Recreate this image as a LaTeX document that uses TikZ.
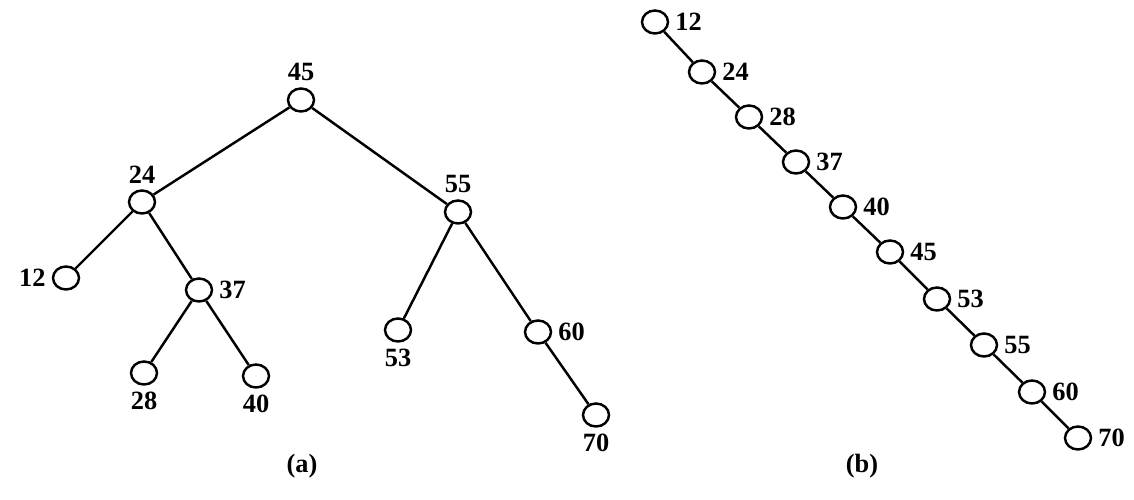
\documentclass[tikz,border=0pt]{standalone}
\usepackage{fontspec}
\setmainfont{Liberation Serif}
\usepackage{tikz}
\usetikzlibrary{positioning, shapes.geometric}

\begin{document}
\begin{tikzpicture}[every node/.style={font=\bfseries\fontsize{15}{17}\selectfont},
    key/.style={ellipse, draw, line width=1.4pt, minimum width=0.52cm, minimum height=0.46cm, inner sep=0pt, label distance=-2pt},
    link/.style={line width=1.4pt}]
    \useasboundingbox (0,0) rectangle (22.68,-10);

    % (a) balanced search tree
    \node (a45) [key, label=above:45] at (6.02,-2.00) {};
    \node (a24) [key, label=above:24] at (2.84,-4.04) {};
    \node (a55) [key, label=above:55] at (9.16,-4.24) {};
    \node (a12) [key, label=left:12] at (1.32,-5.56) {};
    \node (a37) [key, label=right:37] at (3.98,-5.80) {};
    \node (a53) [key, label=below:53] at (7.96,-6.60) {};
    \node (a60) [key, label=right:60] at (10.76,-6.64) {};
    \node (a28) [key, label=below:28] at (2.88,-7.46) {};
    \node (a40) [key, label=below:40] at (5.12,-7.52) {};
    \node (a70) [key, label=below:70] at (11.92,-8.30) {};
    \node (capa) at (6.04,-9.32) {(a)};
    \draw[link] (a45) -- (a24);
    \draw[link] (a45) -- (a55);
    \draw[link] (a24) -- (a12);
    \draw[link] (a24) -- (a37);
    \draw[link] (a37) -- (a28);
    \draw[link] (a37) -- (a40);
    \draw[link] (a55) -- (a53);
    \draw[link] (a55) -- (a60);
    \draw[link] (a60) -- (a70);

    % (b) degenerate tree
    \node (b12) [key, label=right:12] at (13.10,-0.44) {};
    \node (b24) [key, label=right:24] at (14.04,-1.44) {};
    \node (b28) [key, label=right:28] at (14.98,-2.34) {};
    \node (b37) [key, label=right:37] at (15.92,-3.24) {};
    \node (b40) [key, label=right:40] at (16.86,-4.14) {};
    \node (b45) [key, label=right:45] at (17.80,-5.04) {};
    \node (b53) [key, label=right:53] at (18.74,-5.98) {};
    \node (b55) [key, label=right:55] at (19.68,-6.90) {};
    \node (b60) [key, label=right:60] at (20.64,-7.84) {};
    \node (b70) [key, label=right:70] at (21.56,-8.76) {};
    \node (capb) at (17.24,-9.32) {(b)};
    \draw[link] (b12) -- (b24) -- (b28) -- (b37) -- (b40) -- (b45) -- (b53) -- (b55) -- (b60) -- (b70);
\end{tikzpicture}
\end{document}
